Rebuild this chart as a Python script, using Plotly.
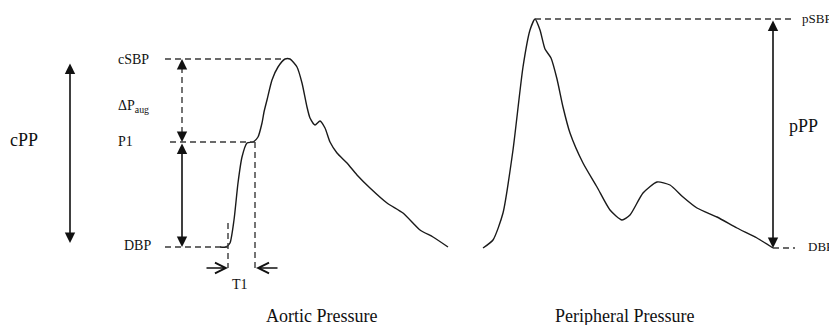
import plotly.graph_objects as go

# ---- data (chart coordinates: x = time axis, y = pressure axis, screen-scaled, y grows downward) ----
aortic_x = [220, 226, 230, 234, 238, 242, 247, 253, 258, 262, 264, 267, 272, 278, 285, 290, 297, 302, 307, 310,
            315, 320, 325, 330, 337, 347, 357, 370, 387, 403, 420, 433, 448]
aortic_y = [247, 247, 243, 220, 183, 157, 143, 142, 137, 123, 112, 100, 80, 67, 59, 59, 67, 83, 107, 118,
            125, 121, 128, 142, 153, 163, 175, 188, 203, 213, 230, 237, 247]

peripheral_x = [483, 493, 503, 513, 523, 530, 535, 540, 545, 551, 557, 563, 570, 583, 597, 610, 622, 630,
                643, 657, 670, 683, 697, 717, 737, 757, 773]
peripheral_y = [248, 240, 213, 150, 67, 30, 19, 30, 49, 58, 79, 107, 133, 163, 187, 210, 220, 215,
                193, 182, 185, 197, 208, 217, 228, 238, 248]

# reference levels
c_sbp, p1_level, c_dbp = 59, 142, 247
t1_start, t1_end, t1_row = 228, 255, 268
p_sbp, p_dbp = 19, 248
cpp_x, cpp_top, cpp_bot = 70, 62, 243
aug_x = 182
ppp_x = 773

labels_small = ["cSBP", "ΔP<sub>aug</sub>", "P1", "DBP", "T1", "pSBP", "DBP"]
labels_big = ["cPP", "pPP", "Aortic Pressure", "Peripheral Pressure"]

FONT = "Liberation Serif, Times New Roman, serif"
DASH_COL = "#3a3a3a"
PAGE_OFFSET = 8  # default page margin around the plot div

fig = go.Figure()
fig.add_trace(go.Scatter(x=aortic_x, y=aortic_y, mode="lines",
                         line=dict(color="#1a1a1a", width=1.4, shape="spline", smoothing=0.6),
                         hoverinfo="skip", showlegend=False))
fig.add_trace(go.Scatter(x=peripheral_x, y=peripheral_y, mode="lines",
                         line=dict(color="#1a1a1a", width=1.4, shape="spline", smoothing=0.6),
                         hoverinfo="skip", showlegend=False))

def dline(x0, y0, x1, y1):
    fig.add_shape(type="line", x0=x0, y0=y0, x1=x1, y1=y1, xref="x", yref="y",
                  line=dict(color=DASH_COL, width=1.4, dash="6px,4px"))

# aortic reference dashed lines
dline(165, c_sbp, aortic_x[aortic_y.index(c_sbp)], c_sbp)
dline(170, p1_level, t1_end, p1_level)
dline(165, c_dbp, t1_start, c_dbp)
dline(t1_start, 223, t1_start, t1_row)
dline(t1_end, p1_level, t1_end, t1_row)
dline(aug_x, c_sbp + 8, aug_x, p1_level - 8)
# peripheral dashed lines
dline(535, p_sbp, 795, p_sbp)
dline(ppp_x, p_dbp, 795, p_dbp)

def arrow(x, y, ax, ay, head=2, side="end", size=1.3, width=1.6):
    fig.add_annotation(x=x, y=y, ax=ax, ay=ay, xref="x", yref="y", axref="x", ayref="y",
                       text="", showarrow=True, arrowhead=head, arrowside=side,
                       arrowsize=size, arrowwidth=width, arrowcolor="#111", startarrowhead=head,
                       startarrowsize=size)

# double-headed solid arrows
arrow(cpp_x, cpp_bot, cpp_x, cpp_top, side="end+start")
arrow(aug_x, c_dbp, aug_x, p1_level, side="end+start")
arrow(ppp_x, p_dbp, ppp_x, p_sbp, side="end+start")
# heads of the dashed augmentation arrow
arrow(aug_x, c_sbp, aug_x, c_sbp + 9)
arrow(aug_x, p1_level, aug_x, p1_level - 9)
# T1 arrows
arrow(t1_start, t1_row, 205, t1_row, head=5, size=1.4, width=1.5)
arrow(t1_end + 1, t1_row, 279, t1_row, head=5, size=1.4, width=1.5)

def label(txt, x, y, size, anchor="left"):
    fig.add_annotation(x=x, y=y, xref="x", yref="y", text=txt, showarrow=False,
                       xanchor=anchor, yanchor="middle",
                       font=dict(family=FONT, size=size, color="#111"))

label(labels_small[0], 116, 59, 14)
label(labels_small[1], 116, 106, 14)
label(labels_small[2], 116, 141, 14)
label(labels_small[3], 122, 245, 14)
label(labels_small[4], 240, 284, 14, "center")
label(labels_small[5], 800, 18, 13)
label(labels_small[6], 806, 246, 13)
label(labels_big[0], 8, 140, 18)
label(labels_big[1], 787, 126, 18)
label(labels_big[2], 321, 316, 18, "center")
label(labels_big[3], 624, 316, 18, "center")

W, H = 837, 325
fig.update_layout(width=W - PAGE_OFFSET, height=H - PAGE_OFFSET, margin=dict(l=0, r=0, t=0, b=0),
                  paper_bgcolor="white", plot_bgcolor="white",
                  xaxis=dict(range=[PAGE_OFFSET, W], visible=False, fixedrange=True),
                  yaxis=dict(range=[H, PAGE_OFFSET], visible=False, fixedrange=True),
                  showlegend=False)

fig.write_html("out.html")
